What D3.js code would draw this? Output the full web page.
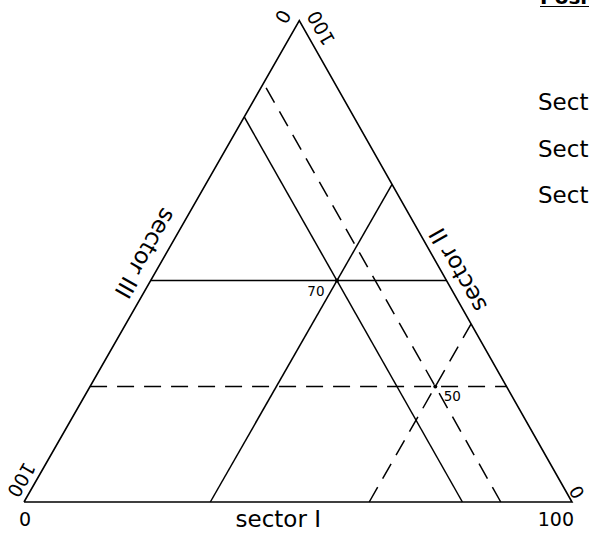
<!DOCTYPE html>
<html>
<head>
<meta charset="utf-8">
<script src="https://cdn.jsdelivr.net/npm/d3@7"></script>
<style>
body { margin: 0; background: #ffffff; }
svg { display: block; }
</style>
</head>
<body>
<script>
// shares of the three sectors (percent)
var years = ["70", "50"];
var sectorI = [34, 63];
var sectorII = [46, 24];
var sectorIII = [20, 13];
var legendLabels = ["Sector I", "Sector II", "Sector III"];
var axisEnds = [0, 100];

var width = 589, height = 533;
var svg = d3.select("body").append("svg")
    .attr("width", width)
    .attr("height", height)
    .style("font-family", "DejaVu Sans, sans-serif");

// corners: A bottom left, B bottom right, C top
var A = [24, 502], B = [572, 502], C = [299.3, 20.7];
var frac = d3.scaleLinear().domain([0, 100]).range([0, 1]);
var xBottom = d3.scaleLinear().domain([0, 100]).range([A[0], B[0]]);

//sector I runs along the bottom, sector II up the right side, sector III down the left side
function tern(i, ii, iii){
    var a = frac(iii), b = frac(i), c = frac(ii);
    return [a*A[0] + b*B[0] + c*C[0], a*A[1] + b*B[1] + c*C[1]];
}

//point beside a side: "along" px from P toward Q, "out" px away from the triangle
function besideSide(P, Q, along, out, side){
    var dx = Q[0] - P[0], dy = Q[1] - P[1];
    var len = Math.sqrt(dx*dx + dy*dy);
    var u = [dx/len, dy/len];
    var n = side === "left" ? [u[1], -u[0]] : [-u[1], u[0]];
    return [P[0] + u[0]*along + n[0]*out, P[1] + u[1]*along + n[1]*out];
}
var leftAngle = Math.atan2(A[1] - C[1], A[0] - C[0])*180/Math.PI;
var rightAngle = Math.atan2(C[1] - B[1], C[0] - B[0])*180/Math.PI;

//triangle
svg.append("path")
    .attr("d", d3.line()([A, B, C, A]))
    .attr("fill", "none")
    .attr("stroke", "#000")
    .attr("stroke-width", 1.6)
    .attr("stroke-linejoin", "miter");

//guide lines: one constant-share line per sector through each point
var segs = [];
for(var k = 0; k < years.length; k++){
    var v1 = sectorI[k], v2 = sectorII[k], v3 = sectorIII[k];
    var dash = k === 0 ? "none" : "17,10";
    segs.push({p: tern(v1, 0, 100 - v1), q: tern(v1, 100 - v1, 0), dash: dash});
    segs.push({p: tern(0, v2, 100 - v2), q: tern(100 - v2, v2, 0), dash: dash});
    segs.push({p: tern(100 - v3, 0, v3), q: tern(0, 100 - v3, v3), dash: dash});
}
svg.selectAll("line.guide").data(segs).enter().append("line")
    .attr("class", "guide")
    .attr("x1", function(d){return d.p[0];})
    .attr("y1", function(d){return d.p[1];})
    .attr("x2", function(d){return d.q[0];})
    .attr("y2", function(d){return d.q[1];})
    .attr("stroke", "#000")
    .attr("stroke-width", 1.5)
    .attr("stroke-dasharray", function(d){return d.dash;});

//points and their labels
svg.selectAll("circle.pt").data(years).enter().append("circle")
    .attr("class", "pt")
    .attr("cx", function(d, i){return tern(sectorI[i], sectorII[i], sectorIII[i])[0];})
    .attr("cy", function(d, i){return tern(sectorI[i], sectorII[i], sectorIII[i])[1];})
    .attr("r", 2)
    .attr("fill", "#000");
svg.selectAll("text.pt").data(years).enter().append("text")
    .attr("class", "pt")
    .attr("x", function(d, i){return tern(sectorI[i], sectorII[i], sectorIII[i])[0] + (i === 0 ? -21 : 17);})
    .attr("y", function(d, i){return tern(sectorI[i], sectorII[i], sectorIII[i])[1] + 10;})
    .attr("text-anchor", "middle")
    .attr("dominant-baseline", "central")
    .attr("font-size", "13.5px")
    .text(function(d){return d;});

//bottom axis, sector I
svg.selectAll("text.bottom").data(axisEnds).enter().append("text")
    .attr("class", "bottom")
    .attr("x", function(d){return d === 0 ? xBottom(d) + 1 : xBottom(d) + 2;})
    .attr("y", 526)
    .attr("text-anchor", function(d){return d === 0 ? "middle" : "end";})
    .attr("font-size", "19px")
    .text(function(d){return d;});
svg.append("text")
    .attr("x", xBottom(46.4))
    .attr("y", 527)
    .attr("text-anchor", "middle")
    .attr("font-size", "23px")
    .text("sector I");

//left side, sector III (0 at top, 100 at bottom), text upside down
var leftLabels = [
    {t: "0", along: 550, out: 16, size: 19},
    {t: "100", along: 18, out: 13, size: 19},
    {t: "sector III", along: 276, out: 18, size: 23}
];
svg.selectAll("text.left").data(leftLabels).enter().append("text")
    .attr("class", "left")
    .attr("transform", function(d){
        var p = besideSide(A, C, d.along, d.out, "left");
        return "translate(" + p[0] + "," + p[1] + ") rotate(" + leftAngle + ")";
    })
    .attr("text-anchor", "middle")
    .attr("dominant-baseline", "central")
    .attr("font-size", function(d){return d.size + "px";})
    .text(function(d){return d.t;});

//right side, sector II (0 at bottom, 100 at top), text upside down
var rightLabels = [
    {t: "0", along: 6, out: 9, size: 18},
    {t: "100", along: 536, out: 15, size: 19},
    {t: "sector II", along: 258, out: 15, size: 23}
];
svg.selectAll("text.right").data(rightLabels).enter().append("text")
    .attr("class", "right")
    .attr("transform", function(d){
        var p = besideSide(B, C, d.along, d.out, "right");
        return "translate(" + p[0] + "," + p[1] + ") rotate(" + rightAngle + ")";
    })
    .attr("text-anchor", "middle")
    .attr("dominant-baseline", "central")
    .attr("font-size", function(d){return d.size + "px";})
    .text(function(d){return d.t;});

//legend on the right, cut off by the page edge as in the original
svg.selectAll("text.legend").data(legendLabels).enter().append("text")
    .attr("class", "legend")
    .attr("x", 538)
    .attr("y", function(d, i){return 110 + 46.5*i;})
    .attr("font-size", "23px")
    .text(function(d){return d;});

//title, mostly above the page
svg.append("text")
    .attr("x", 540)
    .attr("y", 4)
    .attr("font-size", "20px")
    .attr("font-weight", "bold")
    .text("Position");
svg.append("line")
    .attr("x1", 540).attr("x2", 589)
    .attr("y1", 6.5).attr("y2", 6.5)
    .attr("stroke", "#000")
    .attr("stroke-width", 1.2);
</script>
</body>
</html>
